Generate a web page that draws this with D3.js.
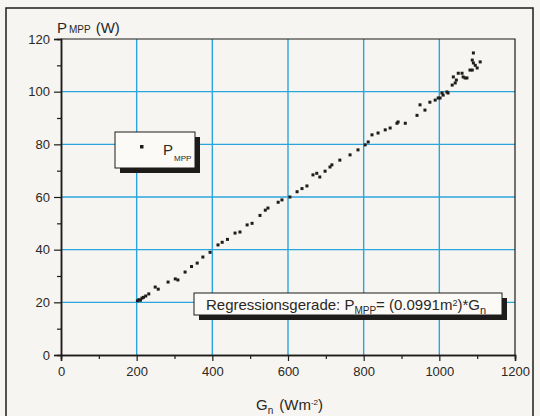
<!DOCTYPE html>
<html>
<head>
<meta charset="utf-8">
<script src="https://cdn.jsdelivr.net/npm/d3@7"></script>
<style>
  body { margin: 0; background: #f6f5f1; }
  svg { display: block; font-family: "Liberation Sans", Arial, sans-serif; }
</style>
</head>
<body>
<div id="chart"></div>
<script>
////////////////////////////////////////////////////////////////
// Data: irradiance G_n (W/m2) and P_MPP (W)

let irradiance = [202, 206, 210, 214, 218, 224, 232, 249, 257, 283, 302, 309, 328, 345, 360,
  375, 394, 415, 426, 440, 460, 473, 492, 505, 526, 540, 547, 574, 584, 605, 624, 637, 650,
  666, 676, 684, 698, 711, 716, 737, 764, 785, 804, 812, 822, 838, 857, 870, 888, 891, 910,
  941, 949, 962, 975, 989, 997, 1002, 1007, 1010, 1020, 1023, 1034, 1037, 1042, 1045, 1050,
  1060, 1063, 1068, 1073, 1081, 1087, 1087, 1090, 1090, 1095, 1100, 1108]
let power = [20.6, 21.0, 20.8, 21.6, 21.9, 22.4, 23.2, 25.8, 25.0, 27.7, 28.9, 28.5, 31.5, 33.6, 34.9,
  37.2, 39.0, 41.8, 42.8, 43.9, 46.3, 46.7, 49.4, 50.0, 53.0, 55.0, 55.8, 58.0, 58.9, 60.0, 62.0, 63.2, 64.2,
  68.4, 69.0, 67.6, 69.8, 71.4, 72.2, 74.0, 76.0, 77.9, 79.8, 80.9, 83.6, 84.3, 85.5, 86.2, 88.0, 88.5, 88.0,
  91.0, 95.0, 93.0, 96.0, 96.8, 97.6, 97.6, 99.5, 98.7, 99.9, 99.5, 102.5, 105.6, 103.3, 104.4, 107.0,
  107.0, 105.6, 105.2, 105.2, 108.2, 108.2, 112.0, 110.9, 114.7, 110.0, 109.0, 111.3]

let xTicks = [0, 200, 400, 600, 800, 1000, 1200]
let yTicks = [0, 20, 40, 60, 80, 100, 120]
let slope = "0.0991"

////////////////////////////////////////////////////////////////
// Setup

let svg = d3.select("#chart").append("svg")
  .attr("width", 540)
  .attr("height", 416)

let gridBlue = "#2ba6dc"
let ink = "#1e1c1a"

let xScale = d3.scaleLinear().domain([0, 1200]).range([61, 515])
let yScale = d3.scaleLinear().domain([0, 120]).range([355, 39])

// outer frame
svg.append("rect")
  .attr("x", 6).attr("y", 8)
  .attr("width", 527).attr("height", 420)
  .attr("fill", "none")
  .attr("stroke", ink)
  .attr("stroke-width", 1.5)

// grid
svg.append("g")
  .selectAll("line")
  .data(xTicks.slice(1, -1))
  .join("line")
  .attr("x1", d => xScale(d)).attr("x2", d => xScale(d))
  .attr("y1", yScale(0)).attr("y2", yScale(120))
  .attr("stroke", gridBlue)
  .attr("stroke-width", 1.4)

svg.append("g")
  .selectAll("line")
  .data(yTicks.slice(1, -1))
  .join("line")
  .attr("x1", xScale(0)).attr("x2", xScale(1200))
  .attr("y1", d => yScale(d)).attr("y2", d => yScale(d))
  .attr("stroke", gridBlue)
  .attr("stroke-width", 1.4)

// plot frame (top + right)
svg.append("path")
  .attr("d", `M${xScale(0)},${yScale(120)}H${xScale(1200)}V${yScale(0)}`)
  .attr("fill", "none")
  .attr("stroke", ink)
  .attr("stroke-width", 1.2)

////////////////////////////////////////////////////////////////
// Axes

let xAxis = d3.axisBottom(xScale).tickValues(xTicks).tickSize(6).tickPadding(6).tickFormat(d3.format("d"))
let xMinor = d3.axisBottom(xScale).tickValues(d3.range(100, 1200, 200)).tickSize(4).tickFormat("")
let yAxis = d3.axisLeft(yScale).tickValues(yTicks).tickSize(7).tickPadding(4).tickFormat(d3.format("d"))
let yMinor = d3.axisLeft(yScale).tickValues(d3.range(10, 120, 20)).tickSize(4).tickFormat("")

function styleAxis(g) {
  g.select(".domain").attr("stroke", ink).attr("stroke-width", 1.5)
  g.selectAll(".tick line").attr("stroke", ink).attr("stroke-width", 1.2)
  g.selectAll(".tick text").attr("fill", "#2a2826").attr("font-size", 13)
    .attr("font-family", "Liberation Sans, Arial, sans-serif")
}

svg.append("g").attr("transform", `translate(0,${yScale(0)})`).call(xMinor).call(styleAxis)
svg.append("g").attr("transform", `translate(0,${yScale(0)})`).call(xAxis).call(styleAxis)
svg.append("g").attr("transform", `translate(${xScale(0)},0)`).call(yMinor).call(styleAxis)
svg.append("g").attr("transform", `translate(${xScale(0)},0)`).call(yAxis).call(styleAxis)

// axis titles
let yTitle = svg.append("text")
  .attr("x", 57).attr("y", 33)
  .attr("font-size", 15).attr("fill", "#2a2826")
yTitle.append("tspan").text("P")
yTitle.append("tspan").attr("font-size", 10).attr("dx", 2).text("MPP")
yTitle.append("tspan").attr("dx", 5).text("(W)")

let xTitle = svg.append("text")
  .attr("x", 256).attr("y", 410)
  .attr("font-size", 15).attr("fill", "#2a2826")
xTitle.append("tspan").text("G")
xTitle.append("tspan").attr("font-size", 10).attr("dy", 4).text("n")
xTitle.append("tspan").attr("dy", -4).attr("dx", 6).text("(Wm")
xTitle.append("tspan").attr("font-size", 8).attr("dy", -5).text("-2")
xTitle.append("tspan").attr("dy", 5).text(")")

////////////////////////////////////////////////////////////////
// Scatter points

let points = irradiance.map((g, i) => ({ g: g, p: power[i] }))

svg.append("g")
  .selectAll("rect")
  .data(points)
  .join("rect")
  .attr("x", d => xScale(d.g) - 1.5)
  .attr("y", d => yScale(d.p) - 1.5)
  .attr("width", 3)
  .attr("height", 3)
  .attr("fill", ink)

////////////////////////////////////////////////////////////////
// Legend box with shadow

function shadowBox(x, y, w, h) {
  svg.append("rect")
    .attr("x", x + 5).attr("y", y + 5)
    .attr("width", w).attr("height", h)
    .attr("fill", ink)
  svg.append("rect")
    .attr("x", x).attr("y", y)
    .attr("width", w).attr("height", h)
    .attr("fill", "#fbfaf7")
    .attr("stroke", ink)
    .attr("stroke-width", 1)
}

shadowBox(115, 132, 80, 36)
svg.append("rect")
  .attr("x", 140).attr("y", 145)
  .attr("width", 3.5).attr("height", 3.5)
  .attr("fill", ink)
let legText = svg.append("text")
  .attr("x", 163).attr("y", 155)
  .attr("font-size", 15).attr("fill", "#2a2826")
legText.append("tspan").text("P")
legText.append("tspan").attr("font-size", 8).attr("dy", 6).attr("dx", 1).text("MPP")

shadowBox(194, 293, 308, 22)
let regText = svg.append("text")
  .attr("x", 206).attr("y", 310)
  .attr("font-size", 15).attr("fill", "#2a2826")
regText.append("tspan").text("Regressionsgerade: P")
regText.append("tspan").attr("font-size", 10).attr("dy", 4).text("MPP")
regText.append("tspan").attr("dy", -4).text(`= (${slope}m`)
regText.append("tspan").attr("font-size", 9).attr("dy", -4).text("2")
regText.append("tspan").attr("dy", 4).text(")*G")
regText.append("tspan").attr("font-size", 11).attr("dy", 4).text("n")
</script>
</body>
</html>
